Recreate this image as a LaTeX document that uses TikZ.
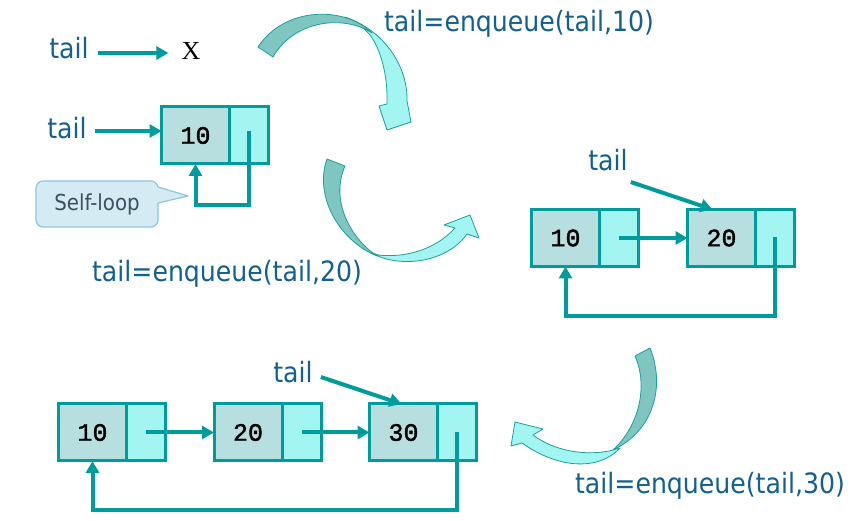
\documentclass[tikz,border=0pt]{standalone}
\usepackage{fontspec}
\setmainfont{DejaVu Sans Condensed}
\newfontfamily\monofont{Liberation Mono}[FakeBold=1.6]
\newfontfamily\seriffont{Liberation Serif}
\usetikzlibrary{arrows.meta,calc}
\definecolor{teal1}{HTML}{009B9B}
\definecolor{lblue}{HTML}{14608E}
\definecolor{cellL}{HTML}{B8DFE0}
\definecolor{cellR}{HTML}{A2F5F0}
\definecolor{darkarr}{HTML}{80C6C0}
\definecolor{arrline}{HTML}{1AA0A0}
\definecolor{callfill}{HTML}{D5EBF3}
\definecolor{callline}{HTML}{8CC6DC}
\definecolor{calltext}{HTML}{3E4E60}
\begin{document}
\begin{tikzpicture}[x=1pt,y=-1pt,
 lbl/.style={text=lblue,font=\fontsize{28}{30}\selectfont,inner sep=0pt},
 datacell/.style={draw=teal1,line width=3pt,fill=cellL,minimum width=68pt,minimum height=57pt,inner sep=0pt,outer sep=0pt,font=\monofont\fontsize{25}{27}\selectfont},
 ptrcell/.style={draw=teal1,line width=3pt,fill=cellR,minimum width=39pt,minimum height=57pt,inner sep=0pt,outer sep=0pt},
 ptr/.style={draw=teal1,line width=4pt,-{Triangle[length=12pt,width=13pt]}},
 darkpart/.style={fill=darkarr,draw=arrline,line width=0.8pt,line join=round},
 lightpart/.style={fill=cellR,draw=arrline,line width=0.8pt,line join=round}]
\fill[white] (0,0) rectangle (855,521);
\useasboundingbox (0,0) rectangle (855,521);

% ---------- state 0 ----------
\node[lbl] (t1) at (69,48) {tail};
\node[font=\seriffont\fontsize{26}{28}\selectfont,inner sep=0pt] (X) at (191,51) {X};
\draw[ptr] ($(t1.east)+(9,5)$) -- ($(X.west)+(-13,2)$);

% ---------- state 1 ----------
\node[lbl] (t2) at (67,128) {tail};
\node[datacell] (a10) at (195.5,135.5) {10};
\node[ptrcell,anchor=west] (a10p) at (a10.east) {};
\coordinate (t2s) at ($(t2.east)+(8,3)$);
\draw[ptr] (t2s) -- (t2s -| a10.west);
\draw[ptr] ($(a10p.center)+(0,-4)$) |- ($(a10.south)+(0,41)$) -- (a10.south);

\node[draw=callline,fill=callfill,line width=1.2pt,rounded corners=7pt,
      minimum width=122pt,minimum height=46pt,text=calltext,
      font=\fontsize{22}{24}\selectfont] (sl) at (97,204) {Self-loop};
\coordinate (slp) at (188,196);
\fill[callfill] ($(sl.east)+(-1.5,-17)$) -- (slp) -- ($(sl.east)+(-1.5,-1)$) -- cycle;
\draw[callline,line width=1.2pt,line join=round] ($(sl.east)+(-0.6,-17)$) -- (slp) -- ($(sl.east)+(-0.6,-1)$);

% ---------- curved arrow 1 ----------
\path[lightpart] (345,17) .. controls (388,32) and (408,70) .. (407,101) -- (411,122) -- (387,130) -- (379,106) -- (387,104)
   .. controls (388,74) and (380,48) .. (370,35) .. controls (363,27) and (355,21) .. (345,17) -- cycle;
\path[darkpart] (258,47) .. controls (285,6) and (345,6) .. (372,33) .. controls (345,15) and (295,19) .. (273,57) -- cycle;
\node[lbl] (e10) at (519,24) {tail=enqueue(tail,10)};

% ---------- curved arrow 2 ----------
\path[lightpart] (370,252) .. controls (395,268) and (445,265) .. (467,234) -- (479,238) -- (470,215) -- (444,225) -- (455,228)
   .. controls (435,250) and (405,258) .. (378,255) -- cycle;
\path[darkpart] (327,159) .. controls (314,195) and (338,240) .. (377,256) .. controls (350,238) and (330,200) .. (345,166) -- cycle;
\node[lbl] (e20) at (227,274) {tail=enqueue(tail,20)};

% ---------- state 2 ----------
\node[datacell] (b10) at (565.5,238) {10};
\node[ptrcell,anchor=west] (b10p) at (b10.east) {};
\node[datacell] (b20) at (721.5,238) {20};
\node[ptrcell,anchor=west] (b20p) at (b20.east) {};
\draw[ptr] (b10p.center) -- (b20.west);
\draw[ptr] ($(b20p.center)+(0,-1)$) |- ($(b10.south)+(0,50)$) -- (b10.south);
\node[lbl] (t3) at (608,160) {tail};
\draw[ptr] ($(t3.south east)+(3,11)$) -- ($(b20.north west)+(25,0)$);

% ---------- curved arrow 3 ----------
\path[lightpart] (620,448) .. controls (600,470) and (560,470) .. (522,443) -- (511,446) -- (515,422) -- (543,429) -- (533,435)
   .. controls (560,455) and (595,455) .. (613,450) -- cycle;
\path[darkpart] (650,348) .. controls (665,385) and (655,430) .. (613,450) .. controls (640,425) and (648,385) .. (635,356) -- cycle;
\node[lbl] (e30) at (710,486) {tail=enqueue(tail,30)};

% ---------- state 3 ----------
\node[datacell] (c10) at (92.5,432.5) {10};
\node[ptrcell,anchor=west] (c10p) at (c10.east) {};
\node[datacell] (c20) at (248,432.5) {20};
\node[ptrcell,anchor=west] (c20p) at (c20.east) {};
\node[datacell] (c30) at (403.5,432.5) {30};
\node[ptrcell,anchor=west] (c30p) at (c30.east) {};
\draw[ptr] (c10p.center) -- (c20.west);
\draw[ptr] (c20p.center) -- (c30.west);
\draw[ptr] (c30p.center) |- ($(c10.south)+(0,49)$) -- (c10.south);
\node[lbl] (t4) at (293,372) {tail};
\draw[ptr] ($(t4.east)+(8,5)$) -- ($(c30.north west)+(32,0)$);
\end{tikzpicture}
\end{document}
